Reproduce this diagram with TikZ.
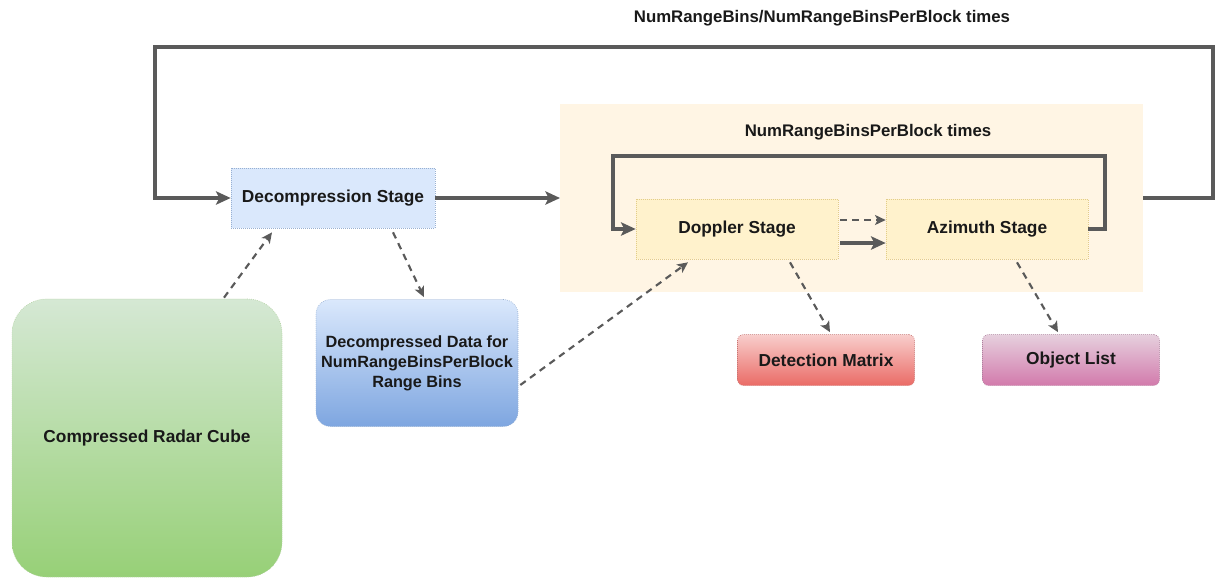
\documentclass[tikz,border=0pt]{standalone}
\usepackage{fontspec}
\setmainfont{Liberation Sans}
\usetikzlibrary{arrows.meta,calc}
\definecolor{linegray}{HTML}{5A5A5A}
\definecolor{bluefill}{HTML}{DAE8FC}
\definecolor{blueline}{HTML}{6C8EBF}
\definecolor{yelfill}{HTML}{FFF2CC}
\definecolor{yelline}{HTML}{D6B656}
\definecolor{regionfill}{HTML}{FFF5E4}
\definecolor{redtop}{HTML}{F8CECC}
\definecolor{redbot}{HTML}{EA6B66}
\definecolor{redline}{HTML}{B85450}
\definecolor{pinktop}{HTML}{E6D0DE}
\definecolor{pinkbot}{HTML}{D27AAB}
\definecolor{pinkline}{HTML}{996185}
\definecolor{bluebot}{HTML}{7EA6E0}
\definecolor{greentop}{HTML}{D5E8D4}
\definecolor{greenbot}{HTML}{97D077}
\definecolor{greenline}{HTML}{82B366}
\tikzset{
  lbl/.style={font=\bfseries\fontsize{13pt}{15pt}\selectfont, text=black!90},
  ttl/.style={font=\bfseries\fontsize{12.6pt}{15pt}\selectfont, text=black!90},
  stagebox/.style={lbl, rectangle, draw, densely dotted, line width=0.5pt, inner sep=0pt, align=center},
  bluebox/.style={stagebox, fill=bluefill, draw=blueline!70, minimum width={204*0.75pt}, minimum height={60*0.75pt}},
  yelbox/.style={stagebox, fill=yelfill, draw=yelline!70, minimum width={202*0.75pt}, minimum height={60*0.75pt}},
  outbox/.style={stagebox, rounded corners=4.5pt, minimum width={177*0.75pt}, minimum height={51*0.75pt}},
  solidarrow/.style={draw=linegray, line width=2.5pt, -{Stealth[length=11pt,width=10pt,inset=2.5pt]}},
  dasharrow/.style={draw=linegray, line width=1.6pt, dash pattern=on 5pt off 4pt, -{Stealth[length=8pt,width=7.5pt,inset=2pt]}},
}
\begin{document}
\begin{tikzpicture}[x=0.75pt,y=-0.75pt]
\useasboundingbox (0,0) rectangle (1215,578);
% region
\fill[regionfill] (560,104) rectangle (1143,292);
\coordinate (regw) at (560,198);
\coordinate (rege) at (1143,198);
\node[ttl] (innertitle) at (868,132) {NumRangeBinsPerBlock times};
\node[ttl] (outertitle) at (822,18) {NumRangeBins/NumRangeBinsPerBlock times};
% nodes
\node[bluebox] (decomp) at (333,198) {Decompression Stage};
\node[yelbox] (doppler) at (737,229) {Doppler Stage};
\node[yelbox] (azimuth) at (987,229) {Azimuth Stage};
\node[outbox, top color=redtop, bottom color=redbot, draw=redline!80] (detmat) at (826,360) {Detection Matrix};
\node[outbox, top color=pinktop, bottom color=pinkbot, draw=pinkline!80] (objlist) at (1071,360) {Object List};
\node[stagebox, font=\bfseries\fontsize{12.2pt}{15pt}\selectfont, rounded corners=11pt, top color=bluefill, bottom color=bluebot, draw=blueline!70,
      minimum width={202*0.75pt}, minimum height={127*0.75pt}] (ddata) at (417,363)
      {Decompressed Data for\\NumRangeBinsPerBlock\\Range Bins};
\node[stagebox, rounded corners=26pt, top color=greentop, bottom color=greenbot, draw=greenline!60,
      minimum width={270*0.75pt}, minimum height={278*0.75pt}] (cube) at (147,438) {Compressed Radar Cube};
% outer loop
\coordinate (o1) at (1213,198);
\coordinate (o2) at (1213,47);
\coordinate (o3) at (155,47);
\draw[solidarrow] (rege) -- (o1) -- (o2) -- (o3) |- (decomp.west);
\draw[solidarrow] (decomp.east) -- (regw);
% inner loop
\coordinate (i1) at (1105,156);
\coordinate (i2) at (613,156);
\draw[solidarrow] (azimuth.east) -| (i1) -- (i2) |- (doppler.west);
% doppler -> azimuth
\draw[dasharrow] ($(doppler.east)+(2,-9)$) -- ($(azimuth.west)+(0,-9)$);
\draw[solidarrow] ($(doppler.east)+(2,14)$) -- ($(azimuth.west)+(0,14)$);
% dashed outputs
\draw[dasharrow] ($(doppler.south)+(53,3)$) -- ($(detmat.north)+(4,-2)$);
\draw[dasharrow] ($(azimuth.south)+(30,3)$) -- ($(objlist.north)+(-13,-2)$);
\draw[dasharrow] ($(cube.north)+(77,-1)$) -- ($(decomp.south)+(-61,4)$);
\draw[dasharrow] ($(decomp.south)+(60,4)$) -- ($(ddata.north)+(7,-2)$);
\draw[dasharrow] ($(ddata.east)+(2,22)$) -- ($(doppler.south)+(-49,3)$);
\end{tikzpicture}
\end{document}
